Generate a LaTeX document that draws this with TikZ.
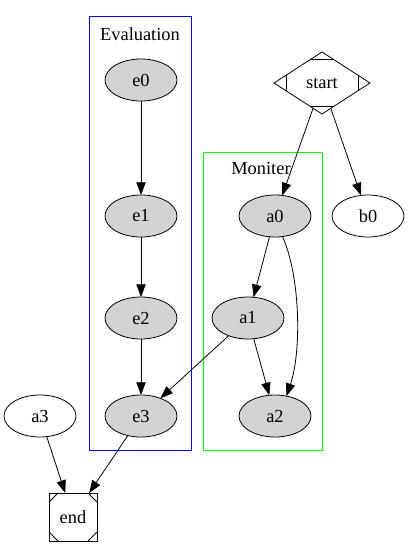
\documentclass[tikz,border=0pt]{standalone}
\usepackage{fontspec}
\setmainfont{Liberation Serif}
\usetikzlibrary{shapes.geometric,arrows.meta,calc}
\definecolor{lightgrey}{HTML}{D3D3D3}
\begin{document}
\begin{tikzpicture}[x=0.75pt,y=-0.75pt,line width=0.6pt,
  every node/.style={font=\fontsize{13.8}{16}\selectfont},
  gnode/.style={ellipse,draw,fill=lightgrey,minimum width=54pt,minimum height=31.5pt,inner sep=0pt,outer sep=0pt},
  wnode/.style={ellipse,draw,minimum width=54pt,minimum height=31.5pt,inner sep=0pt,outer sep=0pt},
  arr/.style={-{Triangle[length=9.5pt,width=7pt]}}]
\useasboundingbox (0,0) rectangle (411,557);
% clusters
\draw[blue] (89,16) rectangle (191,450);
\node (evlabel) at (140,34) {Evaluation};
\draw[green] (203,152) rectangle (322,450);
\node (monlabel) at (261,168) {Moniter};
% nodes
\node[gnode] (e0) at (141,80) {e0};
\node[gnode] (e1) at (141,216) {e1};
\node[gnode] (e2) at (141,318) {e2};
\node[gnode] (e3) at (141,416) {e3};
\node[gnode] (a0) at (275,216) {a0};
\node[gnode] (a1) at (248,318) {a1};
\node[gnode] (a2) at (275,416) {a2};
\node[wnode] (b0) at (368,216) {b0};
\node[wnode] (a3) at (40,416) {a3};
\node[diamond,draw,minimum width=72pt,minimum height=46.5pt,inner sep=0pt,outer sep=0pt] (start) at (322,83) {start};
\draw ($(start.north)!0.25!(start.west)$) -- ($(start.north)!0.25!(start.east)$);
\draw ($(start.south)!0.25!(start.west)$) -- ($(start.south)!0.25!(start.east)$);
\draw ($(start.west)!0.25!(start.north)$) -- ($(start.west)!0.25!(start.south)$);
\draw ($(start.east)!0.25!(start.north)$) -- ($(start.east)!0.25!(start.south)$);
\node[draw,minimum size=36pt,inner sep=0pt,outer sep=0pt] (endnode) at (73,517) {end};
\draw ($(endnode.north west)+(0,9)$) -- ($(endnode.north west)+(9,0)$);
\draw ($(endnode.north east)+(0,9)$) -- ($(endnode.north east)+(-9,0)$);
\draw ($(endnode.south west)+(0,-9)$) -- ($(endnode.south west)+(9,0)$);
\draw ($(endnode.south east)+(0,-9)$) -- ($(endnode.south east)+(-9,0)$);
% edges
\draw[arr] (e0) -- (e1);
\draw[arr] (e1) -- (e2);
\draw[arr] (e2) -- (e3);
\draw[arr] (a1) -- (e3);
\draw[arr] (e3) -- (endnode);
\draw[arr] (a3) -- (endnode);
\draw[arr] (start) -- (a0);
\draw[arr] (start) -- (b0);
\draw[arr] (a0) -- (a1);
\draw[arr] (a1) -- (a2);
\draw[arr] (a0.-70) .. controls (300,275) and (302,350) .. (a2.60);
\end{tikzpicture}
\end{document}
